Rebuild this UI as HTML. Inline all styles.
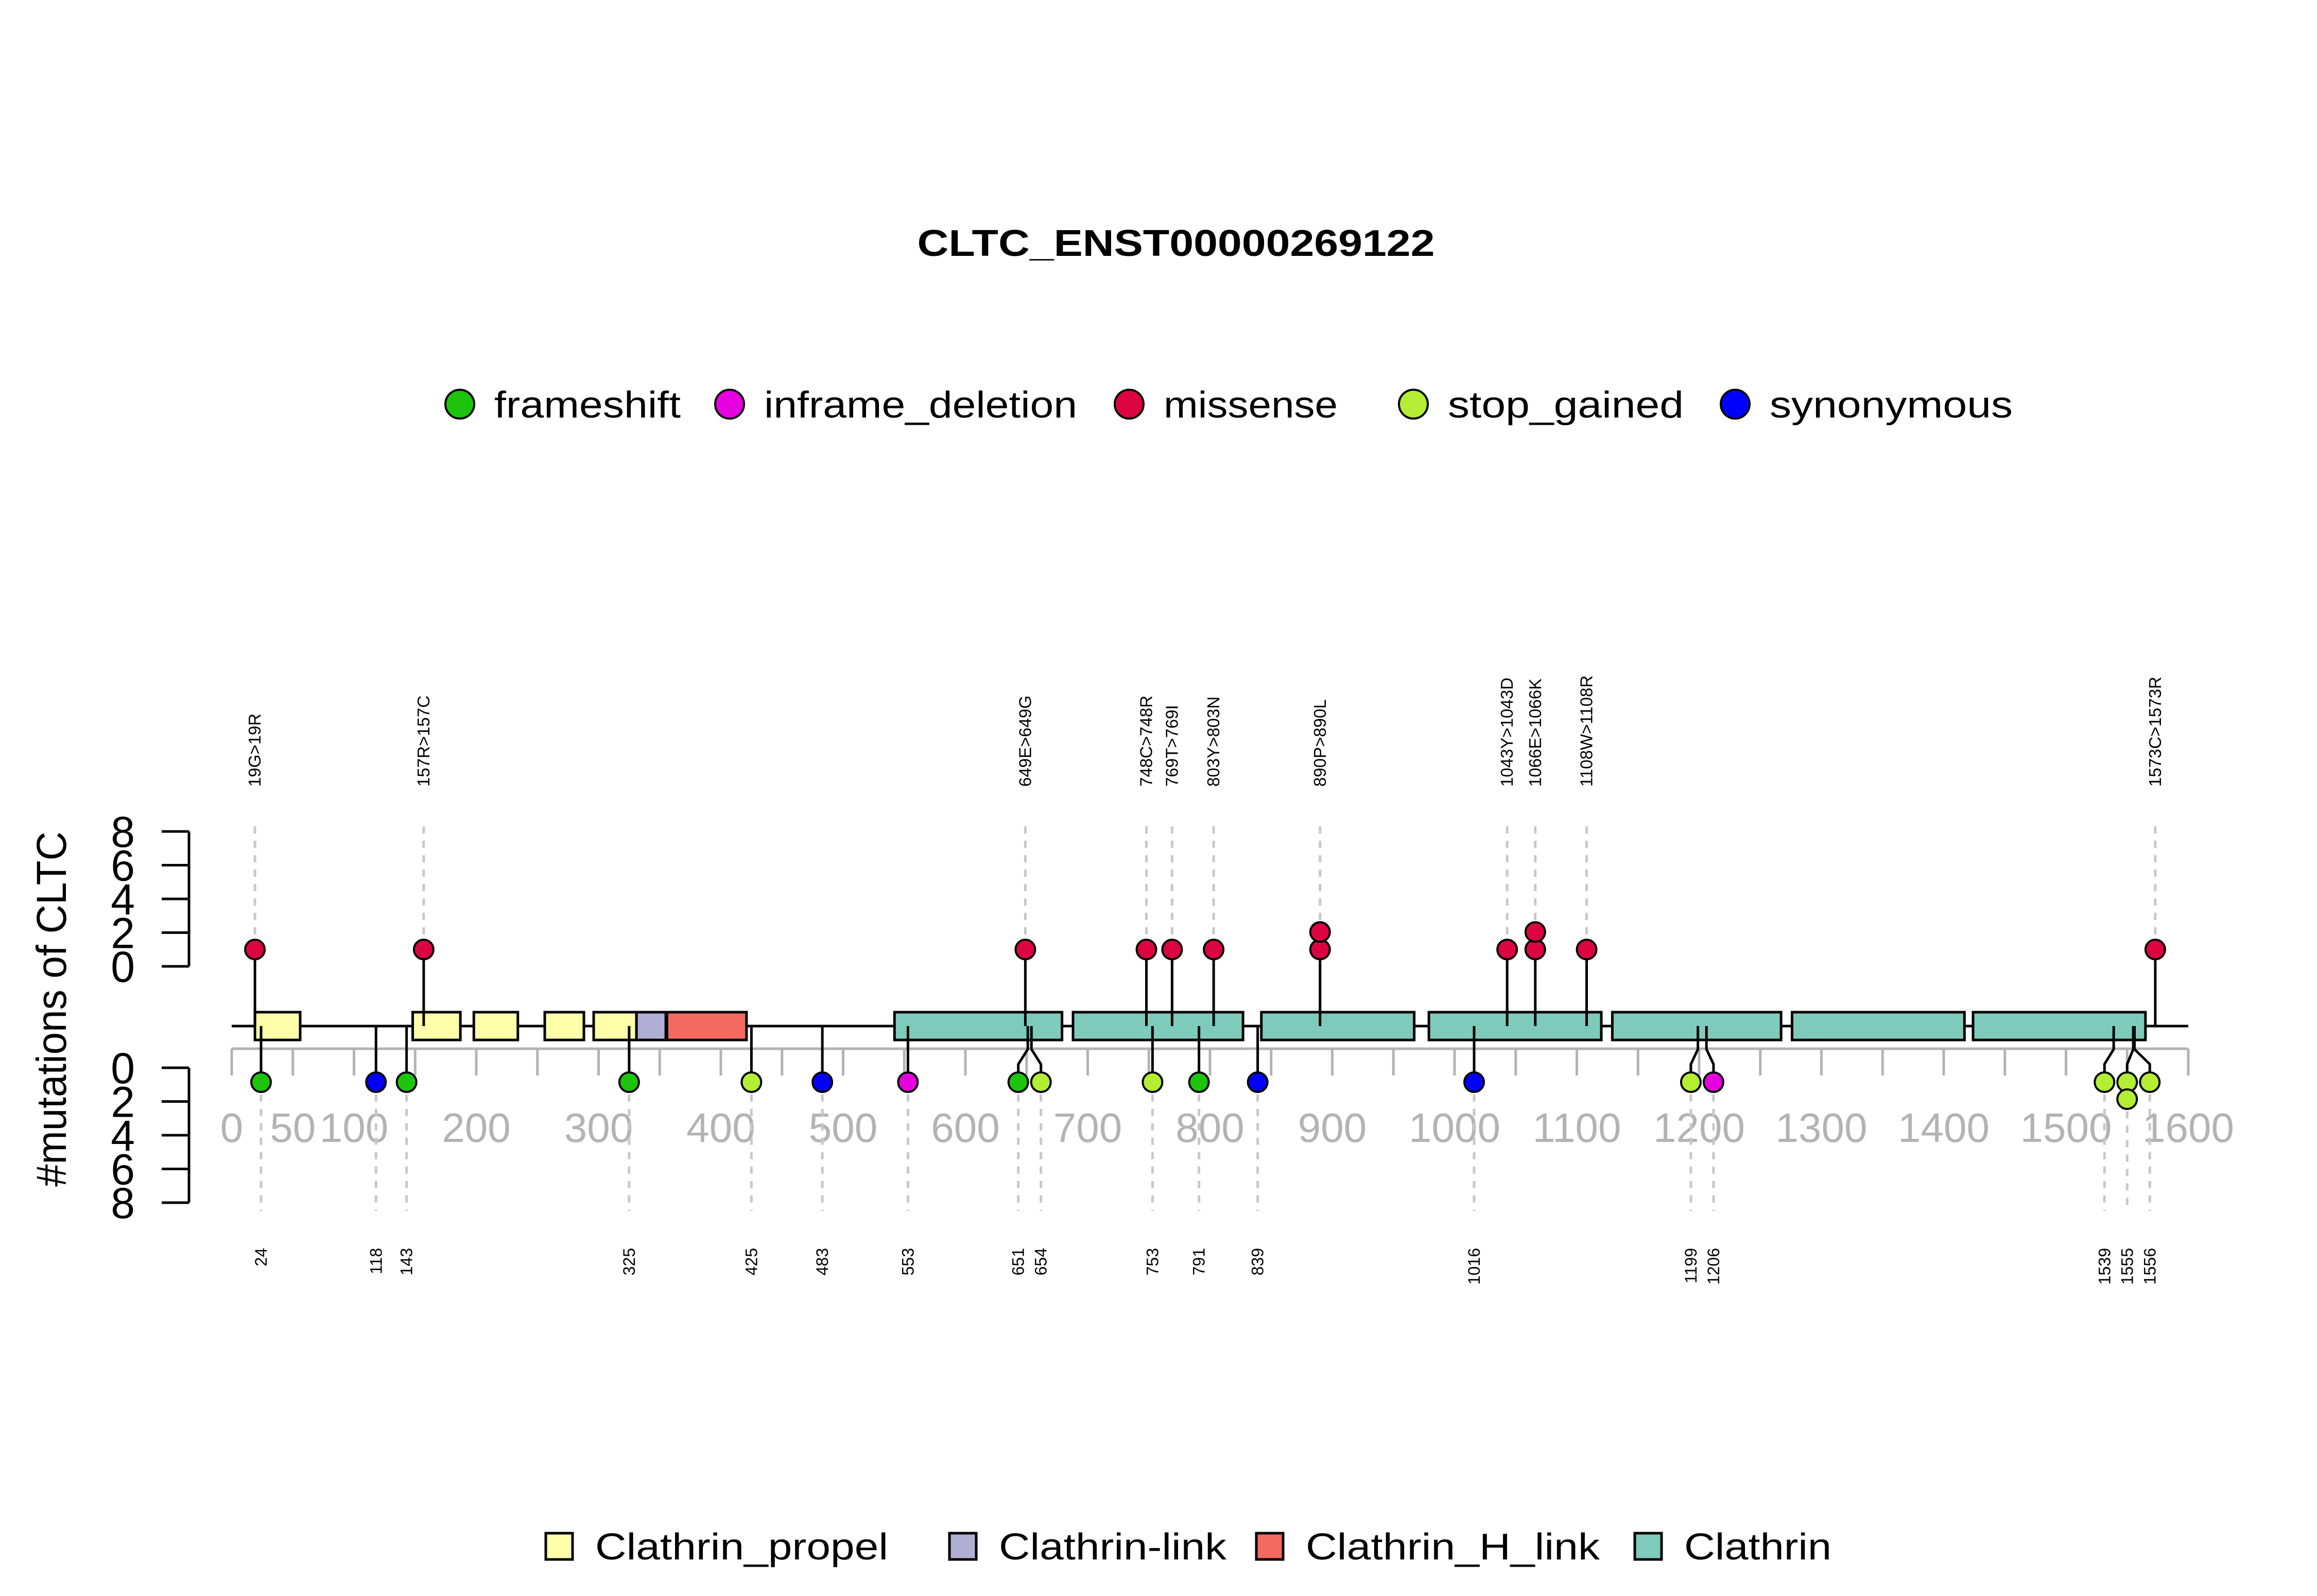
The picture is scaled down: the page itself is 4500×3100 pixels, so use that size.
<!DOCTYPE html>
<html><head><meta charset="utf-8"><style>
html,body{margin:0;padding:0;background:#fff}
svg{display:block;font-family:"Liberation Sans",Arial,sans-serif}
</style></head><body>
<svg id="chart" width="4500" height="3100" viewBox="0 0 4500 3100" xmlns="http://www.w3.org/2000/svg">
<rect width="4500" height="3100" fill="#fff"/>
<text x="2284" y="497" font-size="72" font-weight="bold" text-anchor="middle" textLength="1005" lengthAdjust="spacingAndGlyphs">CLTC_ENST00000269122</text>
<text transform="translate(128,1960) rotate(-90)" font-size="82" text-anchor="middle" textLength="690" lengthAdjust="spacingAndGlyphs">#mutations of CLTC</text>
<g id="mutLegend"></g>
<g id="domLegend"></g>
<g id="plot"></g>
</svg>
<script>
const NS="http://www.w3.org/2000/svg";
// ---- data ----
const mutTypes=["frameshift","inframe_deletion","missense","stop_gained","synonymous"];
const mutColors=["#1cc50c","#e600e0","#dc0440","#b4ee34","#0000ff"];
const domainNames=["Clathrin_propel","Clathrin-link","Clathrin_H_link","Clathrin"];
const domainColors=["#ffffaa","#b1aed3","#f46a5f","#7fcbbb"];
const domainType=[0,0,0,0,0,1,2,3,3,3,3,3,3,3];
const domainStart=[19,148,198,256,296,331,356,542,688,842,979,1129,1276,1424];
const domainEnd=[56,187,234,288,331,355,421,679,827,967,1120,1267,1417,1565];
const upperPos=[19,157,649,748,769,803,890,1043,1066,1108,1573];
const upperCount=[1,1,1,1,1,1,2,1,2,1,1];
const upperLabel=["19G>19R","157R>157C","649E>649G","748C>748R","769T>769I","803Y>803N","890P>890L","1043Y>1043D","1066E>1066K","1108W>1108R","1573C>1573R"];
const lowerPos=[24,118,143,325,425,483,553,651,654,753,791,839,1016,1199,1206,1539,1555,1556];
const lowerCount=[1,1,1,1,1,1,1,1,1,1,1,1,1,1,1,1,2,1];
const lowerType=[0,4,0,0,3,4,1,0,3,3,0,4,4,3,1,3,3,3];
const xTicks=[0,50,100,150,200,250,300,350,400,450,500,550,600,650,700,750,800,850,900,950,1000,1050,1100,1150,1200,1250,1300,1350,1400,1450,1500,1550,1600];
const xTickLabels=[0,50,100,200,300,400,500,600,700,800,900,1000,1100,1200,1300,1400,1500,1600];
const yTicks=[0,2,4,6,8];
// ---- scales ----
const X=p=>450+p*2.375;
const backY=1993;
const upY=c=>1877-c*(1877-1615)/8;
const loY=c=>2074+c*(2336-2074)/8;
const R=19;
function el(tag,attrs,parent,text){const e=document.createElementNS(NS,tag);for(const k in attrs)e.setAttribute(k,attrs[k]);if(text!==undefined)e.textContent=text;parent.appendChild(e);return e;}
const plot=document.getElementById('plot');
[[upY,"upper"],[loY,"lower"]].forEach(([f,nm])=>{
  const g=el('g',{},plot);
  
  
  el('line',{x1:367,x2:367,y1:f(0),y2:f(8),stroke:'#000','stroke-width':5},g);
  yTicks.forEach(t=>{
    el('line',{x1:314,x2:367,y1:f(t),y2:f(t),stroke:'#000','stroke-width':5},g);
    const tx=el('text',{x:262,y:f(t)+30,'font-size':84,'text-anchor':'end'},g,String(t));
    
    
  });
});
const xa=el('g',{},plot);


el('line',{x1:X(0),x2:X(1600),y1:2037,y2:2037,stroke:'#b3b3b3','stroke-width':5},xa);
xTicks.forEach(t=>el('line',{x1:X(t),x2:X(t),y1:2037,y2:2089,stroke:'#b3b3b3','stroke-width':5},xa));
xTickLabels.forEach(t=>{
  const tx=el('text',{x:X(t),y:2218,'font-size':80,'text-anchor':'middle',fill:'#b3b3b3'},xa,String(t));
  
  
});
const bb=el('line',{x1:X(0),x2:X(1600),y1:backY,y2:backY,stroke:'#000','stroke-width':5},plot);


upperPos.forEach((p,i)=>{
  const x=X(p);
  el('line',{x1:x,x2:x,y1:1605,y2:upY(upperCount[i])-R,stroke:'#c8c8c8','stroke-width':5,'stroke-dasharray':'14 14'},plot);
  const t=el('text',{transform:`translate(${x+11},1528) rotate(-90)`,'font-size':33},plot,upperLabel[i]);
  
  
});
const lx=lowerPos.map(X);
for(let it=0;it<200;it++){for(let i=0;i<lx.length-1;i++){const d=lx[i+1]-lx[i];if(d<44){const s=(44-d)/2;lx[i]-=s;lx[i+1]+=s;}}}
lowerPos.forEach((p,i)=>{
  const x=lx[i];
  el('line',{x1:x,x2:x,y1:loY(lowerCount[i])+R,y2:2352,stroke:'#c8c8c8','stroke-width':5,'stroke-dasharray':'14 14'},plot);
  const t=el('text',{transform:`translate(${x+11},2424) rotate(-90)`,'font-size':32,'text-anchor':'end'},plot,String(p));
  
  
});
domainStart.forEach((s,i)=>{
  const r=el('rect',{x:X(s),y:1966,width:X(domainEnd[i])-X(s),height:54,fill:domainColors[domainType[i]],stroke:'#000','stroke-width':5},plot);
  
  
});
upperPos.forEach((p,i)=>{
  const x=X(p);
  el('line',{x1:x,x2:x,y1:backY,y2:upY(1),stroke:'#000','stroke-width':5},plot);
  for(let c=1;c<=upperCount[i];c++){
    const pt=el('circle',{cx:x,cy:upY(1)-(c-1)*34,r:R,fill:mutColors[2],stroke:'#000','stroke-width':4},plot);
    
    
  }
});
lowerPos.forEach((p,i)=>{
  const x0=X(p),x=lx[i];
  const py=loY(1)-7;
  let d;
  if(Math.abs(x-x0)<1)d=`M${x0},${backY}L${x0},${py}`;
  else d=`M${x0},${backY}L${x0},2038L${x},2067L${x},${py}`;
  el('path',{d:d,fill:'none',stroke:'#000','stroke-width':5},plot);
});
lowerPos.forEach((p,i)=>{
  for(let c=1;c<=lowerCount[i];c++){
    const pt=el('circle',{cx:lx[i],cy:2102+(c-1)*33,r:R,fill:mutColors[lowerType[i]],stroke:'#000','stroke-width':4},plot);
    
    
  }
});
const ml=document.getElementById('mutLegend');
const mlCx=[893,1417,2193,2745,3370];
const mlTw=[362,608,338,458,472];
mutTypes.forEach((m,i)=>{
  const g=el('g',{},ml);
  
  
  el('circle',{cx:mlCx[i],cy:785,r:28,fill:mutColors[i],stroke:'#000','stroke-width':4},g);
  el('text',{x:mlCx[i]+67,y:811,'font-size':72,textLength:mlTw[i],lengthAdjust:'spacingAndGlyphs'},g,m);
});
const dl=document.getElementById('domLegend');
const dlX=[1060,1844,2440,3175];
const dlTw=[569,442,571,286];
domainNames.forEach((d,i)=>{
  const g=el('g',{},dl);
  
  
  el('rect',{x:dlX[i],y:2978,width:52,height:51,fill:domainColors[i],stroke:'#000','stroke-width':5},g);
  el('text',{x:dlX[i]+96,y:3029,'font-size':72,textLength:dlTw[i],lengthAdjust:'spacingAndGlyphs'},g,d);
});
</script>
</body></html>
